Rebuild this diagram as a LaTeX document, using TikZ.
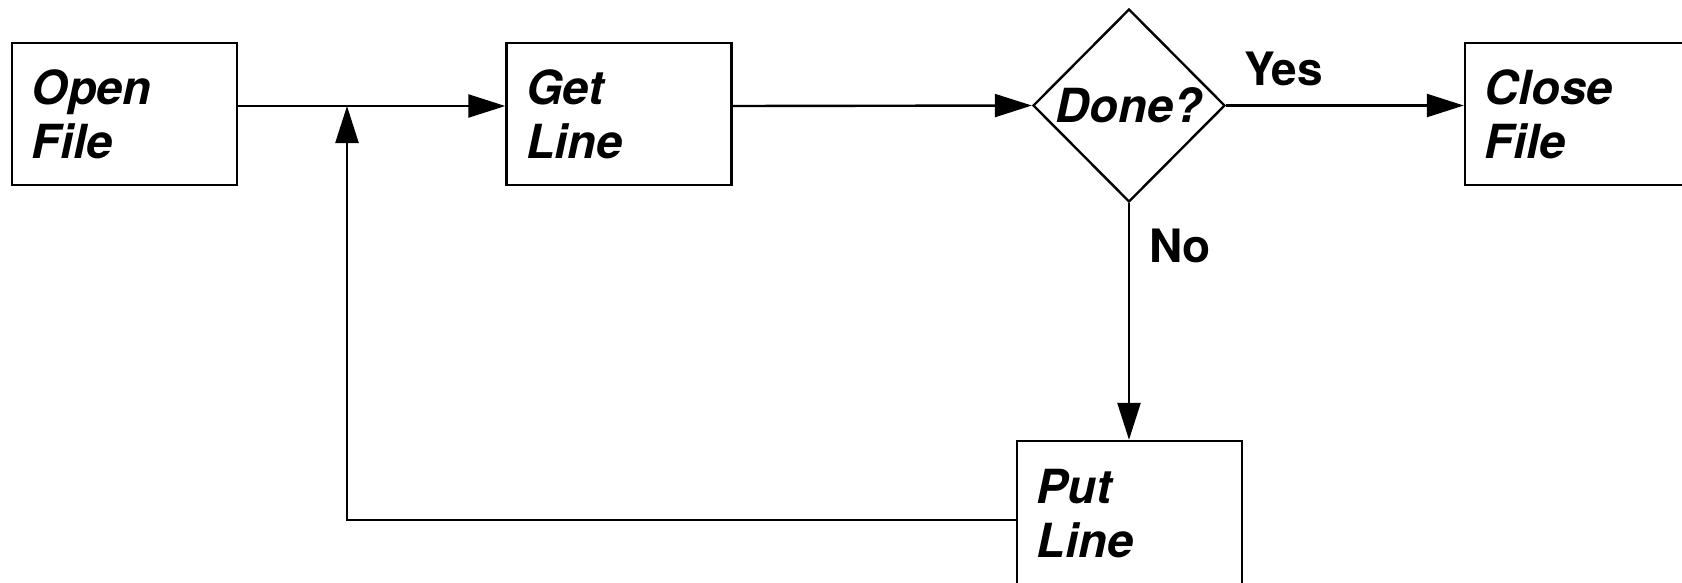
\documentclass[tikz,border=0pt]{standalone}
\usepackage{fontspec}
\setmainfont{TeX Gyre Heros}
\usetikzlibrary{arrows.meta,shapes.geometric}
\begin{document}
\begin{tikzpicture}[x=1pt,y=-1pt,
  line width=2.4pt,
  stepbox/.style={draw,rectangle,minimum width=225pt,minimum height=142pt,
    text width=186pt,inner xsep=19.5pt,inner ysep=0pt,align=left,
    font=\fontsize{47}{54}\selectfont\bfseries\itshape},
  testbox/.style={draw,diamond,minimum width=192pt,minimum height=193pt,inner sep=0pt,
    font=\fontsize{47}{54}\selectfont\bfseries\itshape},
  lbl/.style={anchor=base west,inner sep=0pt,font=\fontsize{46}{54}\selectfont\bfseries},
  arr/.style={-{Triangle[length=37pt,width=23pt]}}]
\useasboundingbox (0,0) rectangle (1682,582);
\node[stepbox] (open) at (124.5,114) {Open\\File};
\node[stepbox] (get) at (619,114) {Get\\Line};
\node[testbox] (done) at (1129,105.5) {Done?};
\node[stepbox] (close) at (1577.5,114) {Close\\File};
\node[stepbox,minimum height=146pt] (put) at (1129.5,514) {Put\\Line};
\node[lbl] (yes) at (1243,85) {Yes};
\node[lbl] (no) at (1148,262) {No};
\coordinate (j) at (347,106);
\coordinate (fb) at (347,520);
\draw[arr] (open.east |- j) -- (get.west |- j);
\draw[arr] (get.east |- j) -- (done.west);
\draw[arr] (done.east) -- (close.west |- done.east);
\draw[arr] (done.south) -- (put.north -| done.south);
\draw[arr] (put.west |- fb) -- (fb) -- (j);
\end{tikzpicture}
\end{document}
